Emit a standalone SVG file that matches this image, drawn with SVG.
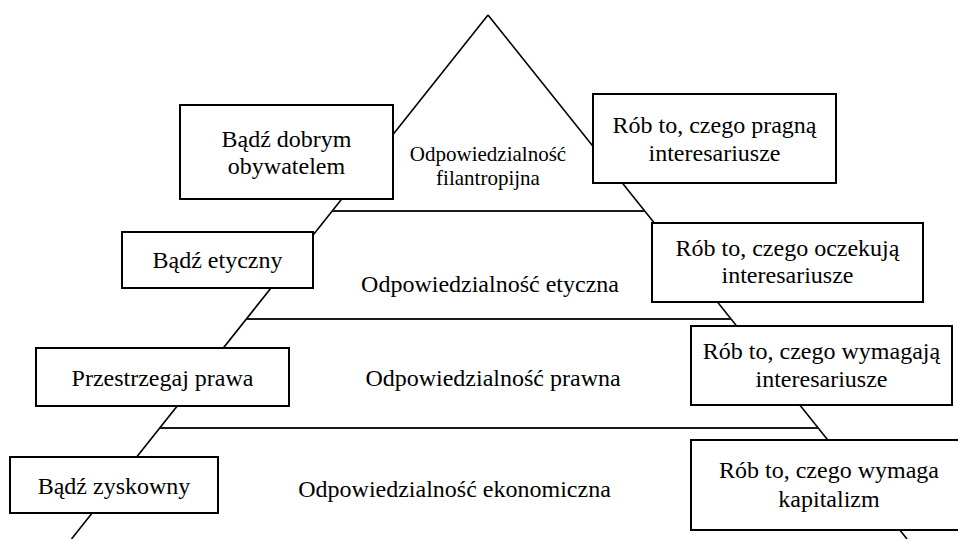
<svg xmlns="http://www.w3.org/2000/svg" width="958" height="539" viewBox="0 0 958 539">
<style>
.bg{fill:#ffffff}
.box{fill:#ffffff;stroke:#000000;stroke-width:2}
.side{stroke:#000000;stroke-width:1.6;fill:none}
.tier{stroke:#1a1a1a;stroke-width:2;fill:none}
text{fill:#000000;text-anchor:middle}
.t{font-size:24px}
.s{font-size:21px}
</style>
<rect class="bg" x="0" y="0" width="958" height="539"/>
<g id="connectors">
<line class="side" x1="488" y1="15" x2="71.5" y2="539"/>
<line class="side" x1="488" y1="15" x2="907" y2="539"/>
<line class="tier" x1="332.2" y1="211" x2="644.8" y2="211"/>
<line class="tier" x1="246.3" y1="319" x2="731" y2="319"/>
<line class="tier" x1="160" y1="428" x2="818.4" y2="428"/>
</g>
<g font-family="'Liberation Serif', 'Times New Roman', 'DejaVu Serif', serif">
<g id="level-filantropijna">
<text class="s" x="488" y="161">Odpowiedzialność</text>
<text class="s" x="488" y="185">filantropijna</text>
</g>
<g id="level-etyczna">
<text class="t" x="490" y="292">Odpowiedzialność etyczna</text>
</g>
<g id="level-prawna">
<text class="t" x="493" y="386">Odpowiedzialność prawna</text>
</g>
<g id="level-ekonomiczna">
<text class="t" x="454.5" y="497">Odpowiedzialność ekonomiczna</text>
</g>
<g id="box-dobry-obywatel">
<rect class="box" x="180" y="105" width="213" height="94"/>
<text class="t" x="286.5" y="147">Bądź dobrym</text>
<text class="t" x="286.5" y="174">obywatelem</text>
</g>
<g id="box-pragna">
<rect class="box" x="593" y="94" width="243" height="89"/>
<text class="t" x="714.5" y="133">Rób to, czego pragną</text>
<text class="t" x="714.5" y="161">interesariusze</text>
</g>
<g id="box-etyczny">
<rect class="box" x="122" y="232" width="191" height="56"/>
<text class="t" x="217.5" y="268">Bądź etyczny</text>
</g>
<g id="box-oczekuja">
<rect class="box" x="652" y="223" width="271" height="79"/>
<text class="t" x="787.5" y="256">Rób to, czego oczekują</text>
<text class="t" x="787.5" y="283">interesariusze</text>
</g>
<g id="box-prawa">
<rect class="box" x="36" y="348" width="253" height="58"/>
<text class="t" x="162.5" y="386">Przestrzegaj prawa</text>
</g>
<g id="box-wymagaja">
<rect class="box" x="691" y="326" width="261" height="79"/>
<text class="t" x="821.5" y="359">Rób to, czego wymagają</text>
<text class="t" x="821.5" y="387">interesariusze</text>
</g>
<g id="box-zyskowny">
<rect class="box" x="10" y="457" width="208" height="56"/>
<text class="t" x="114" y="494">Bądź zyskowny</text>
</g>
<g id="box-kapitalizm">
<rect class="box" x="691" y="440" width="276" height="90"/>
<text class="t" x="829" y="478">Rób to, czego wymaga</text>
<text class="t" x="829" y="507">kapitalizm</text>
</g>
</g>
</svg>
